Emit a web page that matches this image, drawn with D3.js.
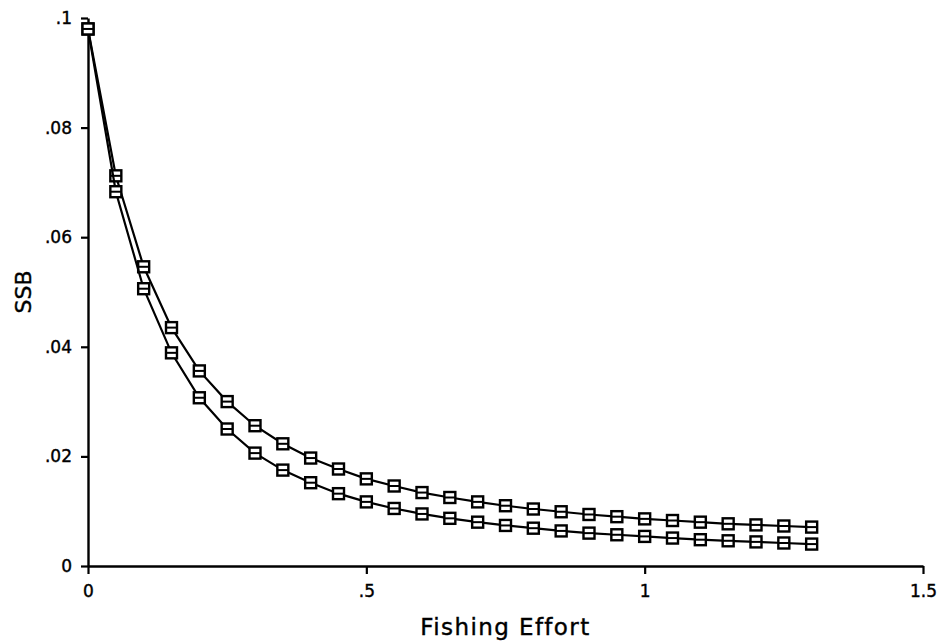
<!DOCTYPE html>
<html>
<head>
<meta charset="utf-8">
<script src="https://cdn.jsdelivr.net/npm/d3@7"></script>
<style>
  body { margin: 0; background: #fff; }
  text { font-family: "DejaVu Sans", sans-serif; fill: #000; }
</style>
</head>
<body>
<div id="chart"></div>
<script>
// Fishing effort values (x) and SSB for the two curves
const effort = [0, 0.05, 0.1, 0.15, 0.2, 0.25, 0.3, 0.35, 0.4, 0.45, 0.5, 0.55, 0.6, 0.65,
    0.7, 0.75, 0.8, 0.85, 0.9, 0.95, 1.0, 1.05, 1.1, 1.15, 1.2, 1.25, 1.3];
const ssbUpper = [0.098, 0.0712, 0.0546, 0.0435, 0.0356, 0.0300, 0.0256, 0.0223, 0.0197, 0.0177,
    0.0159, 0.0146, 0.0134, 0.0125, 0.0117, 0.0110, 0.0104, 0.0099, 0.0094, 0.0090, 0.0086,
    0.0083, 0.0080, 0.0077, 0.0075, 0.0073, 0.0071];
const ssbLower = [0.098, 0.0683, 0.0506, 0.0389, 0.0307, 0.0250, 0.0206, 0.0175, 0.0152, 0.0132,
    0.0117, 0.0105, 0.0095, 0.0087, 0.0080, 0.0074, 0.0069, 0.0064, 0.0060, 0.0057, 0.0054,
    0.0051, 0.0048, 0.0046, 0.0044, 0.0042, 0.0040];
const xTicks = [0, 0.5, 1, 1.5];
const xTickLabels = ["0", ".5", "1", "1.5"];
const yTicks = [0, 0.02, 0.04, 0.06, 0.08, 0.1];
const yTickLabels = ["0", ".02", ".04", ".06", ".08", ".1"];

const width = 943;
const height = 644;
const marginLeft = 88, marginRight = 20, marginTop = 18, marginBottom = 78;

const x = d3.scaleLinear().domain([0, 1.5]).range([marginLeft, width - marginRight]);
const y = d3.scaleLinear().domain([0, 0.1]).range([height - marginBottom, marginTop]);

const svg = d3.select("#chart").append("svg")
    .attr("width", width)
    .attr("height", height)
    .attr("viewBox", [0, 0, width, height]);

// x axis
svg.append("g")
    .attr("transform", `translate(0,${height - marginBottom})`)
    .call(d3.axisBottom(x).tickValues(xTicks).tickFormat((d, i) => xTickLabels[i])
        .tickSizeOuter(0).tickSizeInner(8).tickPadding(11))
    .call(g => g.select(".domain").attr("stroke-width", 2.4))
    .call(g => g.selectAll(".tick line").attr("stroke-width", 2.2))
    .call(g => g.selectAll(".tick text").attr("font-size", 17)
        .attr("stroke", "#000").attr("stroke-width", 0.4));

// y axis
svg.append("g")
    .attr("transform", `translate(${marginLeft},0)`)
    .call(d3.axisLeft(y).tickValues(yTicks).tickFormat((d, i) => yTickLabels[i])
        .tickSizeOuter(0).tickSizeInner(7).tickPadding(9))
    .call(g => g.select(".domain").attr("stroke-width", 2.4))
    .call(g => g.selectAll(".tick line").attr("stroke-width", 2.2))
    .call(g => g.selectAll(".tick text").attr("font-size", 17)
        .attr("stroke", "#000").attr("stroke-width", 0.4));

// axis titles
svg.append("text")
    .attr("x", x(0.75))
    .attr("y", 635)
    .attr("text-anchor", "middle")
    .attr("font-size", 23)
    .attr("letter-spacing", 1.4)
    .attr("stroke", "#000").attr("stroke-width", 0.4)
    .text("Fishing Effort");

svg.append("text")
    .attr("transform", `translate(31,292) rotate(-90)`)
    .attr("text-anchor", "middle")
    .attr("font-size", 22)
    .attr("stroke", "#000").attr("stroke-width", 0.4)
    .text("SSB");

const line = d3.line()
    .x((d, i) => x(effort[i]))
    .y(d => y(d));

[ssbUpper, ssbLower].forEach(series => {
    svg.append("path")
        .datum(series)
        .attr("fill", "none")
        .attr("stroke", "#000")
        .attr("stroke-width", 2.2)
        .attr("d", line);

    // square markers with a bar through the middle
    const m = svg.append("g").selectAll("g")
        .data(series)
        .join("g")
        .attr("transform", (d, i) => `translate(${x(effort[i])},${y(d)})`);
    m.append("rect")
        .attr("x", -5.5).attr("y", -5.5)
        .attr("width", 11).attr("height", 11)
        .attr("fill", "#fff")
        .attr("stroke", "#000")
        .attr("stroke-width", 2.4);
    m.append("line")
        .attr("x1", -5.5).attr("x2", 5.5)
        .attr("y1", 0).attr("y2", 0)
        .attr("stroke", "#000")
        .attr("stroke-width", 2);
});
</script>
</body>
</html>
